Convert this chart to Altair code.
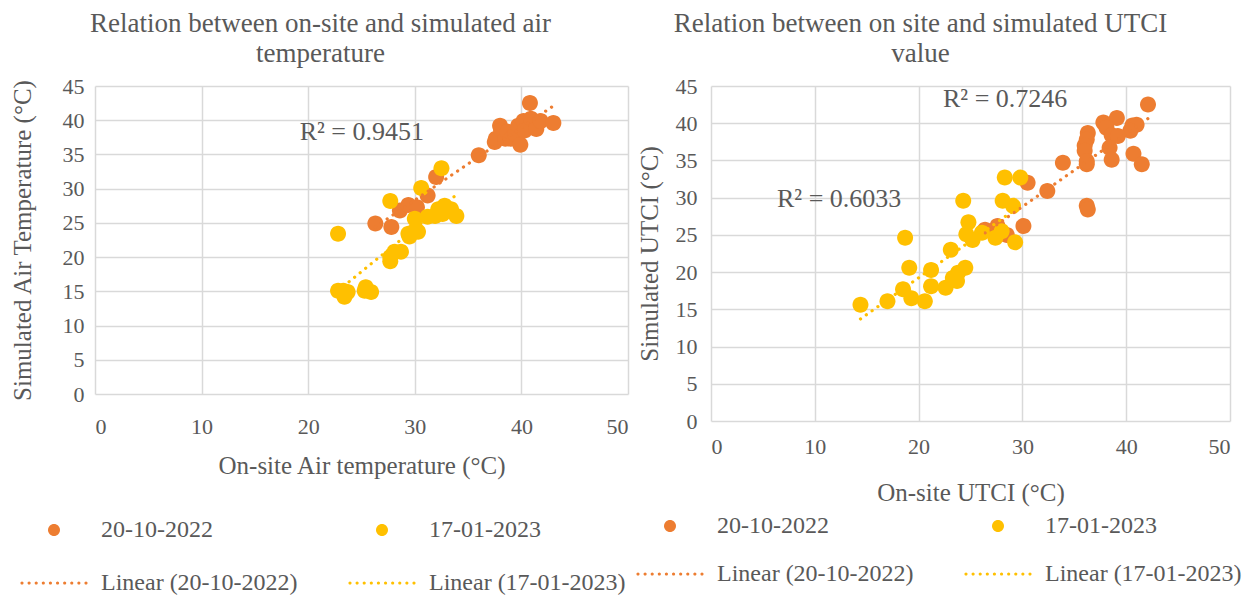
import altair as alt
import pandas as pd

# ---------------- data ----------------
SERIES = ["20-10-2022", "17-01-2023"]
LEGEND_LABELS = ["20-10-2022", "17-01-2023", "Linear (20-10-2022)", "Linear (17-01-2023)"]
X_TICKS = [0, 10, 20, 30, 40, 50]
Y_TICKS = [0, 5, 10, 15, 20, 25, 30, 35, 40, 45]

# Left panel: air temperature
air_oct_x = [26.3, 27.8, 28.6, 29.4, 30.2, 31.2, 32.0, 36.0, 37.5, 37.6, 38.0, 38.1, 38.5,
             38.7, 39.0, 39.4, 39.7, 39.9, 40.2, 40.3, 40.8, 40.9, 41.4, 41.8, 43.0]
air_oct_y = [24.9, 24.4, 26.8, 27.6, 27.3, 29.0, 31.7, 34.9, 36.8, 37.3, 39.2, 38.5, 37.3,
             38.3, 37.3, 38.0, 39.2, 36.4, 39.9, 38.5, 42.5, 40.2, 38.7, 39.9, 39.6]
air_jan_x = [22.8, 22.8, 23.3, 23.7, 23.4, 25.3, 25.4, 25.9, 27.7, 27.7, 28.1, 28.7, 29.4, 29.5,
             30.0, 30.3, 27.7, 30.0, 30.6, 32.5, 31.2, 31.9, 32.2, 32.6, 32.8, 33.4, 33.9]
air_jan_y = [23.4, 15.1, 15.1, 14.9, 14.2, 15.1, 15.6, 14.9, 20.0, 19.4, 20.8, 20.8, 23.4, 23.0,
             23.8, 23.7, 28.2, 25.6, 30.1, 33.0, 25.9, 26.0, 27.0, 26.3, 27.5, 27.0, 26.0]

# Right panel: UTCI
utci_oct_x = [42.1, 37.8, 39.1, 38.1, 40.6, 41.0, 40.4, 38.6, 39.2, 36.3, 36.2, 36.0, 36.0, 38.4,
              40.7, 41.5, 38.6, 36.2, 36.2, 33.9, 30.5, 32.4, 36.2, 36.3, 30.1, 26.4, 27.6, 28.5]
utci_oct_y = [42.5, 40.1, 40.7, 39.4, 39.7, 39.8, 39.0, 38.4, 38.3, 38.7, 37.8, 37.0, 36.3, 36.7,
              35.9, 34.5, 35.1, 34.5, 34.9, 34.7, 32.0, 30.9, 28.9, 28.4, 26.2, 25.7, 26.2, 25.0]
utci_jan_x = [14.4, 17.0, 18.5, 19.3, 18.7, 19.1, 20.6, 21.2, 21.2, 22.6, 23.1, 23.3, 23.7, 24.5,
              23.8, 24.3, 24.8, 24.6, 25.2, 26.1, 27.4, 28.1, 28.3, 29.8, 29.1, 29.3, 28.0]
utci_jan_y = [15.6, 16.1, 17.7, 16.5, 24.6, 20.6, 16.1, 20.3, 18.1, 17.9, 23.0, 19.2, 18.8, 20.6,
              19.9, 29.6, 26.7, 25.1, 24.3, 25.3, 24.6, 29.6, 32.7, 32.7, 28.9, 24.0, 25.5]

# R² annotations (text and anchor in data units)
air_r2_text = ["R² = 0.9451"]
air_r2_x = [19.2]
air_r2_y = [38.3]
utci_r2_text = ["R² = 0.7246", "R² = 0.6033"]
utci_r2_x = [22.35, 6.36]
utci_r2_y = [43.3, 29.8]

# ---------------- style ----------------
FONT = "Liberation Serif"
GREY = "#595959"
GRID = "#d9d9d9"
ORANGE = "#ED7D31"
YELLOW = "#FFC000"


def circle_path(r, cx=0.0):
    return (f"M{cx - r:.3f},0A{r},{r} 0 1,0 {cx + r:.3f},0"
            f"A{r},{r} 0 1,0 {cx - r:.3f},0Z")


def dots_path(n, half, r):
    return "".join(circle_path(r, -half + 2 * half * i / (n - 1)) for i in range(n))


CIRCLE = circle_path(0.6)
DOTS = dots_path(10, 3.2, 0.16)


def panel(ox, oy, jx, jy, title_lines, xtitle, ytitle, w, h,
          r2x, r2y, r2t, xlab_pad, xtitle_pad, ylab_pad, ytitle_pad,
          legend_x, legend_y, row_pad, title_dx):
    df = pd.DataFrame({
        "x": ox + jx,
        "y": oy + jy,
        "series": [SERIES[0]] * len(ox) + [SERIES[1]] * len(jx),
    })
    color_scale = alt.Scale(domain=LEGEND_LABELS, range=[ORANGE, YELLOW, ORANGE, YELLOW])
    shape_scale = alt.Scale(domain=LEGEND_LABELS, range=[CIRCLE, CIRCLE, DOTS, DOTS])
    legend = alt.Legend(
        title=None, orient="none", legendX=legend_x, legendY=legend_y,
        direction="horizontal", columns=2, columnPadding=50, rowPadding=row_pad,
        symbolSize=400, symbolStrokeWidth=0,
        labelFont=FONT, labelFontSize=24, labelColor=GREY,
        labelOffset=35, labelLimit=400,
    )
    xenc = alt.X("x:Q", title=xtitle,
                 scale=alt.Scale(domain=[0, 50], nice=False, zero=False),
                 axis=alt.Axis(values=X_TICKS, grid=True, gridColor=GRID, gridWidth=1.5,
                               domain=False, ticks=False, labelFont=FONT, labelFontSize=22,
                               labelColor=GREY, labelPadding=xlab_pad, labelOverlap=False,
                               titleFont=FONT, titleFontSize=25, titleFontWeight="normal",
                               titleColor=GREY, titlePadding=xtitle_pad))
    yenc = alt.Y("y:Q", title=ytitle,
                 scale=alt.Scale(domain=[0, 45], nice=False, zero=False),
                 axis=alt.Axis(values=Y_TICKS, grid=True, gridColor=GRID, gridWidth=1.5,
                               domain=False, ticks=False, labelFont=FONT, labelFontSize=22,
                               labelColor=GREY, labelPadding=ylab_pad, labelOverlap=False,
                               titleFont=FONT, titleFontSize=25, titleFontWeight="normal",
                               titleColor=GREY, titlePadding=ytitle_pad))
    base = alt.Chart(df)
    pts = base.mark_point(filled=True, opacity=1, size=711).encode(
        x=xenc, y=yenc,
        color=alt.Color("series:N", scale=color_scale, legend=legend),
        shape=alt.Shape("series:N", scale=shape_scale, legend=legend),
    )
    trend = base.transform_regression(
        "x", "y", groupby=["series"], method="linear"
    ).transform_calculate(
        trend="'Linear (' + datum.series + ')'"
    ).mark_line(strokeDash=[0.1, 7], strokeCap="round", strokeWidth=3.2).encode(
        x=xenc, y=yenc,
        color=alt.Color("trend:N", scale=color_scale, legend=None),
    )
    r2df = pd.DataFrame({"x": r2x, "y": r2y, "t": r2t})
    txt = alt.Chart(r2df).mark_text(
        align="left", baseline="middle", font=FONT, fontSize=26, color=GREY
    ).encode(x=xenc, y=yenc, text="t:N")
    return alt.layer(pts, trend, txt).properties(
        width=w, height=h,
        title=alt.TitleParams(text=title_lines, font=FONT, fontSize=27, fontWeight="normal",
                              color=GREY, anchor="middle", lineHeight=30, offset=7, dx=title_dx),
    )


left = panel(air_oct_x, air_oct_y, air_jan_x, air_jan_y,
             ["Relation between on-site and simulated air", "temperature"],
             "On-site Air temperature (°C)", "Simulated Air Temperature (°C)",
             533, 308, air_r2_x, air_r2_y, air_r2_text,
             22, 16, 11, 27, -53, 432, 29, -41)
right = panel(utci_oct_x, utci_oct_y, utci_jan_x, utci_jan_y,
              ["Relation between on site and simulated UTCI", "value"],
              "On-site UTCI (°C)", "Simulated UTCI (°C)",
              519, 335, utci_r2_x, utci_r2_y, utci_r2_text,
              15, 23, 14, 13, -53, 428, 24, -50)

chart = alt.hconcat(left, right, spacing=9).resolve_scale(
    color="independent", shape="independent"
).resolve_legend(
    color="independent", shape="independent"
).configure_view(strokeWidth=0).properties(
    padding={"left": 10, "top": 10, "right": 5, "bottom": 0},
    background="white",
)

chart.save("out.html", embed_options={"renderer": "svg", "actions": False})
